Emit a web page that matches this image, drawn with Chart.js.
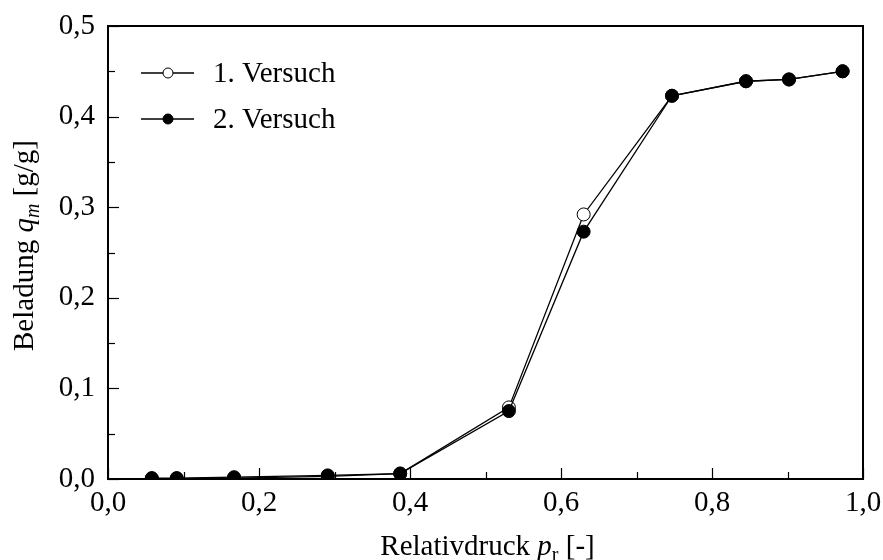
<!DOCTYPE html>
<html>
<head>
<meta charset="utf-8">
<script src="https://cdn.jsdelivr.net/npm/chart.js@4.4.1/dist/chart.umd.min.js"></script>
<style>
  html, body { margin: 0; padding: 0; background: #fff; }
  #wrap { width: 883px; height: 560px; }
</style>
</head>
<body>
<div id="wrap"><canvas id="c" width="883" height="560"></canvas></div>
<script>
// Adsorption isotherm: loading vs. relative pressure, two runs
const relPressure = [0.058, 0.091, 0.167, 0.291, 0.387, 0.531, 0.630, 0.747, 0.845, 0.902, 0.973];
const loadingRun1 = [0.0005, 0.0005, 0.001, 0.003, 0.006, 0.079, 0.292, 0.423, 0.439, 0.441, 0.450];
const loadingRun2 = [0.001, 0.001, 0.002, 0.004, 0.006, 0.075, 0.273, 0.423, 0.439, 0.441, 0.450];
const seriesNames = ['1. Versuch', '2. Versuch'];
const xTickValues = [0, 0.2, 0.4, 0.6, 0.8, 1.0];
const xMinorTicks = [0.1, 0.3, 0.5, 0.7, 0.9];
const yTickValues = [0, 0.1, 0.2, 0.3, 0.4, 0.5];
const yMinorTicks = [0.05, 0.15, 0.25, 0.35, 0.45];

const FONT = "'Liberation Serif', 'Times New Roman', serif";
const FS = 29;
// plot rectangle inside the 883x560 canvas
const PLOT = { left: 108, top: 26, right: 863, bottom: 479 };

const toPoints = (xs, ys) => xs.map((x, i) => ({ x: x, y: ys[i] }));
const fmt = v => Number(v).toFixed(1).replace('.', ',');

// frame, inward ticks, axis titles and legend
const decorations = {
  id: 'decorations',
  afterDraw(chart) {
    const ctx = chart.ctx;
    const a = chart.chartArea;
    const xs = chart.scales.x, ys = chart.scales.y;
    ctx.save();
    ctx.strokeStyle = '#000';
    ctx.lineWidth = 2;
    ctx.strokeRect(a.left, a.top, a.right - a.left, a.bottom - a.top);

    ctx.lineWidth = 1.2;
    const seg = (x1, y1, x2, y2) => { ctx.beginPath(); ctx.moveTo(x1, y1); ctx.lineTo(x2, y2); ctx.stroke(); };
    xTickValues.forEach(v => { const p = Math.round(xs.getPixelForValue(v)) + 0.5; seg(p, a.bottom, p, a.bottom - 11); });
    xMinorTicks.forEach(v => { const p = Math.round(xs.getPixelForValue(v)) + 0.5; seg(p, a.bottom, p, a.bottom - 7); });
    yTickValues.forEach(v => { const p = Math.round(ys.getPixelForValue(v)) + 0.5; seg(a.left, p, a.left + 11, p); });
    yMinorTicks.forEach(v => { const p = Math.round(ys.getPixelForValue(v)) + 0.5; seg(a.left, p, a.left + 7, p); });

    // rich text pieces: [text, italic, subscript]
    const drawRich = (parts, cx, baseline) => {
      ctx.textBaseline = 'alphabetic';
      ctx.textAlign = 'left';
      const fontFor = p => (p[1] ? 'italic ' : '') + (p[2] ? Math.round(FS * 0.7) : FS) + 'px ' + FONT;
      let total = 0;
      parts.forEach(p => { ctx.font = fontFor(p); total += ctx.measureText(p[0]).width; });
      let x = cx - total / 2;
      parts.forEach(p => {
        ctx.font = fontFor(p);
        ctx.fillText(p[0], x, baseline + (p[2] ? FS * 0.22 : 0));
        x += ctx.measureText(p[0]).width;
      });
    };
    ctx.fillStyle = '#000';
    drawRich([['Relativdruck ', false, false], ['p', true, false], ['r', false, true], [' [-]', false, false]],
             (a.left + a.right) / 2 + 2, 555);

    ctx.save();
    ctx.translate(33, (a.top + a.bottom) / 2 - 7);
    ctx.rotate(-Math.PI / 2);
    drawRich([['Beladung ', false, false], ['q', true, false], ['m', true, true], [' [g/g]', false, false]], 0, 0);
    ctx.restore();

    // legend
    chart.data.datasets.forEach((ds, i) => {
      const y = 73 + i * 46;
      ctx.strokeStyle = ds.borderColor;
      ctx.lineWidth = 1.3;
      seg(141, y, 194, y);
      ctx.beginPath();
      ctx.arc(168, y, 5, 0, Math.PI * 2);
      ctx.fillStyle = ds.pointBackgroundColor;
      ctx.fill();
      ctx.lineWidth = 1;
      ctx.strokeStyle = ds.pointBorderColor;
      ctx.stroke();
      ctx.fillStyle = '#000';
      ctx.font = FS + 'px ' + FONT;
      ctx.textBaseline = 'middle';
      ctx.textAlign = 'left';
      ctx.fillText(ds.label, 213, y + 1);
    });
    ctx.restore();
  }
};

new Chart(document.getElementById('c'), {
  type: 'scatter',
  data: {
    datasets: [
      {
        label: seriesNames[0],
        data: toPoints(relPressure, loadingRun1),
        showLine: true,
        borderColor: '#000',
        borderWidth: 1.3,
        pointRadius: 6.5,
        pointBackgroundColor: '#fff',
        pointBorderColor: '#000',
        pointBorderWidth: 1,
        order: 1
      },
      {
        label: seriesNames[1],
        data: toPoints(relPressure, loadingRun2),
        showLine: true,
        borderColor: '#000',
        borderWidth: 1.3,
        pointRadius: 6.5,
        pointBackgroundColor: '#000',
        pointBorderColor: '#000',
        pointBorderWidth: 1,
        order: 0
      }
    ]
  },
  options: {
    responsive: false,
    animation: false,
    devicePixelRatio: 1,
    layout: { padding: { top: PLOT.top, right: 883 - PLOT.right, left: 0, bottom: 0 } },
    plugins: { legend: { display: false }, tooltip: { enabled: false } },
    scales: {
      x: {
        type: 'linear', min: 0, max: 1,
        afterBuildTicks: s => { s.ticks = xTickValues.map(v => ({ value: v })); },
        afterFit: s => { s.height = 560 - PLOT.bottom; },
        grid: { display: false, drawTicks: false },
        border: { display: false },
        ticks: { callback: fmt, color: '#000', font: { family: FONT, size: FS, lineHeight: 1.68 }, padding: 0, maxRotation: 0, autoSkip: false }
      },
      y: {
        type: 'linear', min: 0, max: 0.5,
        afterBuildTicks: s => { s.ticks = yTickValues.map(v => ({ value: v })); },
        afterFit: s => { s.width = PLOT.left; },
        grid: { display: false, drawTicks: false },
        border: { display: false },
        ticks: { callback: fmt, color: '#000', font: { family: FONT, size: FS, lineHeight: 0.8 }, padding: 13, autoSkip: false }
      }
    }
  },
  plugins: [decorations]
});
</script>
</body>
</html>
